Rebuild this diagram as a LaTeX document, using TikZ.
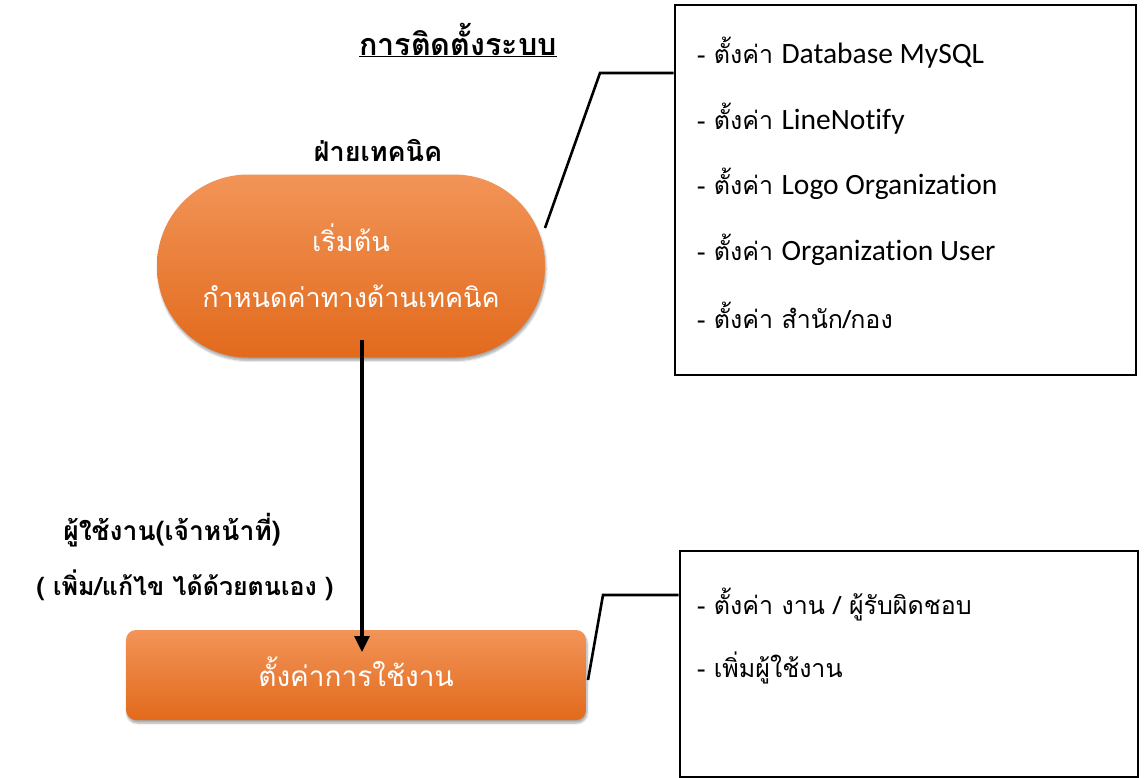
\documentclass[tikz,border=0pt]{standalone}
\usepackage{fontspec}
\setmainfont{Liberation Sans}
\newfontfamily\thai[Script=Thai]{Loma}
\newfontfamily\lat[Ligatures=NoCommon]{Carlito}
\usetikzlibrary{arrows.meta,shadows.blur}
\definecolor{otop}{RGB}{242,148,88}
\definecolor{obot}{RGB}{226,106,28}
\tikzset{
  orangebox/.style={top color=otop, bottom color=obot, draw=none,
    blur shadow={shadow xshift=1pt, shadow yshift=-3pt, shadow blur steps=6, shadow opacity=35},
    text=white, align=center, font=\thai\fontsize{27}{56}\selectfont},
  listbox/.style={draw=black, line width=2.8pt, fill=white},
  item/.style={anchor=west, inner sep=0pt, font=\thai\fontsize{25}{30}\selectfont},
  lbl/.style={inner sep=0pt, font=\thai\bfseries\fontsize{25}{30}\selectfont},
  conn/.style={line width=2.6pt, black},
}
\newcommand{\latw}[1]{{\lat\fontsize{29.5}{30}\selectfont #1}}
\begin{document}
\begin{tikzpicture}[x=1pt,y=-1pt]
\useasboundingbox (0,0) rectangle (1144,777);
% title
\node[lbl, font=\thai\bfseries\fontsize{30.5}{34}\selectfont] (title) at (458,40) {\underline{การติดตั้งระบบ}};
\node[lbl, font=\thai\bfseries\fontsize{27}{30}\selectfont] (tech) at (378,150) {ฝ่ายเทคนิค};
% start stadium
\node[orangebox, minimum width=388pt, minimum height=183pt, rounded corners=91pt] (start) at (351,266)
  {เริ่มต้น\\กำหนดค่าทางด้านเทคนิค};
% bottom rect
\node[orangebox, font=\thai\fontsize{28}{34}\selectfont, minimum width=460pt, minimum height=90pt, rounded corners=10pt] (use) at (356,675) {\raisebox{6pt}{ตั้งค่าการใช้งาน}};
% user labels
\node[lbl, font=\thai\bfseries\fontsize{26.5}{30}\selectfont] (user1) at (172,530) {ผู้ใช้งาน(เจ้าหน้าที่)};
\node[lbl] (user2) at (185,585) {( เพิ่ม/แก้ไข ได้ด้วยตนเอง )};
% arrow
\coordinate (a1) at (362,340);
\coordinate (a2) at (362,652);
\draw[conn, line width=3.2pt, -{Triangle[length=16pt,width=15pt]}] (a1) -- (a2);
% box 1
\node[listbox, minimum width=461pt, minimum height=370pt] (box1) at (905.5,190) {};
\node[item] (i1) at (697,53) {- ตั้งค่า \latw{Database MySQL}};
\node[item] (i2) at (697,119) {- ตั้งค่า \latw{LineNotify}};
\node[item] (i3) at (697,184) {- ตั้งค่า \latw{Logo Organization}};
\node[item] (i4) at (697,250) {- ตั้งค่า \latw{Organization User}};
\node[item] (i5) at (697,315) {- ตั้งค่า สำนัก/กอง};
% box 2
\node[listbox, minimum width=458pt, minimum height=226pt] (box2) at (909,664) {};
\node[item] (j1) at (697,605) {- ตั้งค่า งาน / ผู้รับผิดชอบ};
\node[item] (j2) at (697,668) {- เพิ่มผู้ใช้งาน};
% callouts
\coordinate (c1) at (545,228);
\coordinate (k1) at (600,73);
\draw[conn] (c1) -- (k1) -- (box1.west |- k1);
\coordinate (c2) at (588,680);
\coordinate (k2) at (603,595);
\draw[conn] (c2) -- (k2) -- (box2.west |- k2);
\end{tikzpicture}
\end{document}
